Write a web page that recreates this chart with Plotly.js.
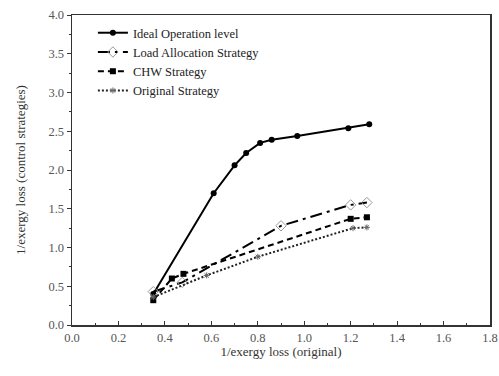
<!DOCTYPE html>
<html><head><meta charset="utf-8">
<script src="https://cdn.plot.ly/plotly-3.0.1.min.js"></script>
<style>body{margin:0;background:#fff}#c{width:499px;height:376px}</style>
</head><body><div id="c"></div>
<script>
var idealX = [0.35, 0.61, 0.70, 0.75, 0.81, 0.86, 0.97, 1.19, 1.28];
var idealY = [0.40, 1.70, 2.06, 2.22, 2.35, 2.39, 2.44, 2.54, 2.59];
var loadX = [0.35, 0.475, 0.90, 1.20, 1.27];
var loadY = [0.43, 0.55, 1.28, 1.55, 1.58];
var chwX = [0.35, 0.43, 0.48, 1.20, 1.27];
var chwY = [0.32, 0.60, 0.66, 1.37, 1.39];
var origX = [0.35, 0.58, 0.80, 1.21, 1.27];
var origY = [0.36, 0.64, 0.88, 1.25, 1.26];
var names = ['Ideal Operation level', 'Load Allocation Strategy', 'CHW Strategy', 'Original Strategy'];

var traces = [
  {x: idealX, y: idealY, name: names[0], mode: 'lines+markers',
   line: {color: '#000', width: 2}, marker: {symbol: 'circle', size: 6, color: '#000'}},
  {x: loadX, y: loadY, name: names[1], mode: 'lines+markers',
   line: {color: '#000', width: 2, dash: '12px,5px,3px,5px'},
   marker: {symbol: 'diamond-open', size: 8, color: '#999', line: {width: 1, color: '#999'}}},
  {x: chwX, y: chwY, name: names[2], mode: 'lines+markers',
   line: {color: '#000', width: 2, dash: '6px,4px'},
   marker: {symbol: 'square', size: 6, color: '#000'}},
  {x: origX, y: origY, name: names[3], mode: 'lines+markers',
   line: {color: '#222', width: 2, dash: '2px,2px'},
   marker: {symbol: 'asterisk-open', size: 5, color: '#666', line: {width: 1, color: '#666'}}}
];

var layout = {
  width: 499, height: 376,
  margin: {l: 72, r: 9, t: 15, b: 51},
  paper_bgcolor: '#fff', plot_bgcolor: '#fff',
  font: {family: 'Liberation Serif, serif', size: 12, color: '#444'},
  showlegend: true,
  legend: {x: 0.05, y: 0.99, xanchor: 'left', yanchor: 'top', bgcolor: 'rgba(0,0,0,0)',
           font: {family: 'Liberation Serif, serif', size: 12.5, color: '#222'}, tracegroupgap: 0},
  xaxis: {range: [0, 1.8], dtick: 0.2, tick0: 0, tickformat: '.1f', showgrid: false, zeroline: false,
          showline: true, linecolor: '#333', linewidth: 1.5, mirror: true,
          ticks: 'inside', ticklen: 4, tickcolor: '#333',
          minor: {dtick: 0.1, ticks: 'inside', ticklen: 2, tickcolor: '#333'},
          tickfont: {size: 12.5, color: '#555'},
          title: {text: '1/exergy loss (original)', font: {size: 13, color: '#333'}, standoff: 0}},
  yaxis: {range: [0, 4], dtick: 0.5, tick0: 0, tickformat: '.1f', showgrid: false, zeroline: false,
          showline: true, linecolor: '#333', linewidth: 1.5, mirror: true,
          ticks: 'outside', ticklen: 4, tickcolor: '#333',
          minor: {dtick: 0.25, ticks: 'outside', ticklen: 2, tickcolor: '#333'},
          tickfont: {size: 12.5, color: '#555'},
          title: {text: '1/exergy loss (control strategies)', font: {size: 13, color: '#333'}, standoff: 20}}
};
Plotly.newPlot('c', traces, layout, {displayModeBar: false, staticPlot: true});
</script></body></html>
